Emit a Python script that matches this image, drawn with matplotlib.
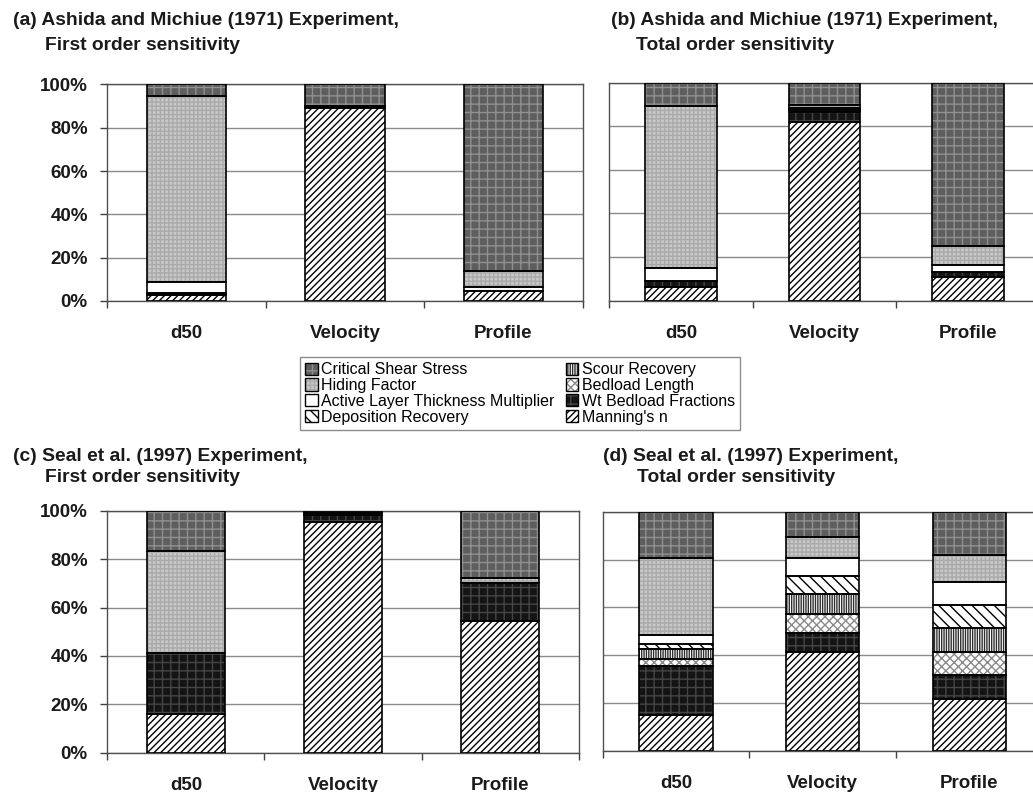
import numpy as np
import matplotlib
matplotlib.use("Agg")
import matplotlib.pyplot as plt
from matplotlib.patches import Patch
from matplotlib.legend_handler import HandlerTuple
from matplotlib.ticker import MultipleLocator, FuncFormatter

plt.rcParams['font.family'] = ['Liberation Sans', 'DejaVu Sans']
plt.rcParams['hatch.linewidth'] = 1.0

categories = ['d50', 'Velocity', 'Profile']
series = ['Critical Shear Stress', 'Hiding Factor', 'Active Layer Thickness Multiplier',
          'Deposition Recovery', 'Scour Recovery', 'Bedload Length',
          'Wt Bedload Fractions', "Manning's n"]

# values in series order (percent of total)
a_d50 = [5.4, 86.0, 4.9, 0, 0, 0, 0.7, 3.0]
a_velocity = [9.7, 0.6, 0, 0, 0, 0, 0.5, 89.2]
a_profile = [86.0, 7.7, 1.8, 0, 0, 0, 0, 4.5]
b_d50 = [10.7, 74.6, 5.8, 0, 0, 0, 2.6, 6.3]
b_velocity = [10.1, 1.5, 1.0, 0, 0, 0.8, 4.6, 82.0]
b_profile = [74.9, 8.6, 3.4, 0, 0, 0, 2.3, 10.8]
c_d50 = [16.8, 41.8, 0, 0, 0, 0, 25.3, 16.1]
c_velocity = [0.8, 1.1, 0, 0, 0, 0, 2.9, 95.2]
c_profile = [27.9, 2.1, 0, 0, 0, 0, 15.4, 54.6]
d_d50 = [19.2, 32.5, 3.5, 2.2, 4.0, 2.9, 20.8, 14.9]
d_velocity = [10.7, 8.5, 7.5, 7.5, 8.6, 7.9, 8.1, 41.2]
d_profile = [18.1, 11.4, 9.4, 9.7, 10.1, 9.4, 10.3, 21.6]

titles = [('(a) Ashida and Michiue (1971) Experiment,', 'First order sensitivity'),
          ('(b) Ashida and Michiue (1971) Experiment,', 'Total order sensitivity'),
          ('(c) Seal et al. (1997) Experiment,', 'First order sensitivity'),
          ('(d) Seal et al. (1997) Experiment,', 'Total order sensitivity')]

# styles: (facecolor, hatch, hatchcolor)
styles = [('#5e5e5e', '++', '#909090'),
          ('#c8c8c8', '++++', '#aaaaaa'),
          ('#ffffff', '', '#ffffff'),
          ('#ffffff', '\\' * 3, '#000000'),
          ('#ffffff', '|' * 7, '#303030'),
          ('#ffffff', 'xxxx', '#8a8a8a'),
          ('#141414', '++', '#454545'),
          ('#ffffff', '/' * 5, '#000000')]

W, H = 1033, 792
fig = plt.figure(figsize=(W / 100, H / 100), dpi=100)

def px_rect(l, t, r, b):
    return [l / W, 1 - b / H, (r - l) / W, (b - t) / H]

rects = [px_rect(107.3, 84.5, 582.7, 301),
         px_rect(609.3, 82.5, 1039.8, 300.5),
         px_rect(107.3, 510.7, 578.7, 752.7),
         px_rect(602.7, 511.7, 1042.7, 751.0)]
panels = [[a_d50, a_velocity, a_profile],
          [b_d50, b_velocity, b_profile],
          [c_d50, c_velocity, c_profile],
          [d_d50, d_velocity, d_profile]]

for k, (rect, vals) in enumerate(zip(rects, panels)):
    ax = fig.add_axes(rect)
    x = np.arange(len(categories))
    data = np.array(vals, dtype=float).T
    data = data / data.sum(axis=0) * 100
    bottom = np.zeros(len(categories))
    for i in reversed(range(len(series))):
        h = data[i]
        m = h > 0
        fc, hatch, hc = styles[i]
        if m.any():
            ax.bar(x[m], h[m], 0.5, bottom=bottom[m], color=fc, edgecolor=hc,
                   hatch=hatch, linewidth=0, zorder=2)
            ax.bar(x[m], h[m], 0.5, bottom=bottom[m], fill=False,
                   edgecolor='black', linewidth=1.2, zorder=3)
        bottom = bottom + h
    ax.set_xlim(-0.5, 2.5)
    ax.set_ylim(0, 100)
    ax.yaxis.set_major_locator(MultipleLocator(20))
    ax.yaxis.set_major_formatter(FuncFormatter(lambda v, p: f'{v:.0f}%'))
    ax.set_xticks(x)
    ax.set_xticklabels(categories)
    ax.set_xticks([-0.5, 0.5, 1.5, 2.5], minor=True)
    ax.tick_params(axis='x', which='major', length=0, pad=17.5)
    ax.tick_params(axis='x', which='minor', length=5, width=1, color='#404040')
    if k % 2 == 0:
        ax.tick_params(axis='y', length=5, width=1, color='#404040', pad=9)
    else:
        ax.tick_params(axis='y', length=0, labelleft=False)
    for lab in ax.get_xticklabels() + ax.get_yticklabels():
        lab.set_fontsize(13.5)
        lab.set_fontweight('bold')
        lab.set_color('#1a1a1a')
    ax.grid(axis='y', color='#8a8a8a', linewidth=1)
    ax.set_axisbelow(True)
    for s in ax.spines.values():
        s.set_color('#505050')
        s.set_linewidth(1)

title_pos = [(12.7, 20.7, 45, 45.7), (611, 20.7, 636, 45.7),
             (12.7, 456.5, 45, 478), (603, 456.5, 637, 478)]
for (t1, t2), (x1, y1, x2, y2) in zip(titles, title_pos):
    fig.text(x1 / W, 1 - y1 / H, t1, ha='left', va='center', fontsize=13.9,
             fontweight='bold', color='#1a1a1a')
    fig.text(x2 / W, 1 - y2 / H, t2, ha='left', va='center', fontsize=13.9,
             fontweight='bold', color='#1a1a1a')

handles = []
for fc, hatch, hc in styles:
    handles.append((Patch(facecolor=fc, edgecolor=hc, hatch=hatch, linewidth=0),
                    Patch(fill=False, edgecolor='black', linewidth=1.0)))
leg = fig.legend(handles, series, ncol=2, loc='center',
                 bbox_to_anchor=(520 / W, 1 - 393.5 / H),
                 handler_map={tuple: HandlerTuple(ndivide=1, pad=0)},
                 fontsize=11.5, frameon=True, fancybox=False, edgecolor='#707070',
                 handlelength=0.8, handleheight=0.8, handletextpad=0.2,
                 labelspacing=0.05, columnspacing=0.7, borderpad=0.35,
                 borderaxespad=0)
leg.get_frame().set_linewidth(1.0)

fig.savefig('out.png', dpi=100)
